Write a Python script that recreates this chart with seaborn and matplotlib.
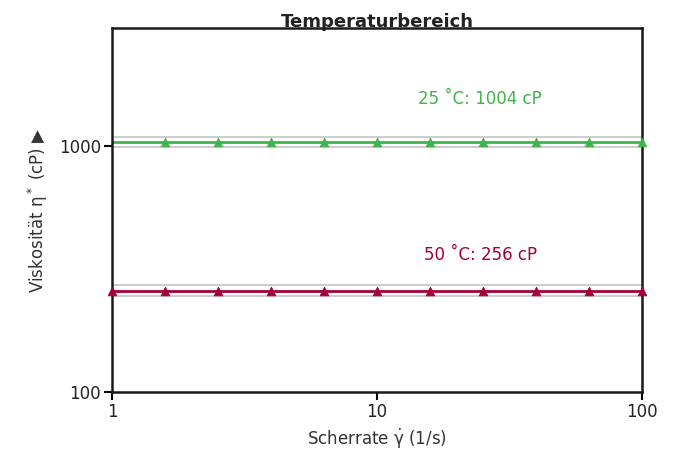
import numpy as np
import pandas as pd
import matplotlib
matplotlib.use("Agg")
import matplotlib.pyplot as plt
import seaborn as sns

# data
shear_rate = [1.0, 1.585, 2.512, 3.981, 6.310, 10.0, 15.85, 25.12, 39.81, 63.10, 100.0]
visc_25 = [1035] * 11
visc_50 = [258] * 11
label_25 = "25 ˚C: 1004 cP"
label_50 = "50 ˚C: 256 cP"
tol = 0.05

sns.set_theme(style="white")
plt.rcParams['font.family'] = ['DejaVu Sans']
plt.rcParams['mathtext.fontset'] = 'dejavusans'

green = "#3db54a"
red = "#a50034"

fig = plt.figure(figsize=(6.82, 4.55), dpi=100)
ax = fig.add_axes([0.1642, 0.1385, 0.7771, 0.8])

df = pd.DataFrame({"x": shear_rate * 2,
                   "y": visc_25 + visc_50,
                   "s": ["25"] * 11 + ["50"] * 11})

# tolerance bands (gray lines)
for vals in (visc_25, visc_50):
    for f in (1 + tol, 1 - tol):
        sns.lineplot(x=shear_rate, y=[v * f for v in vals], ax=ax,
                     color="#c8c8c8", lw=1.3, zorder=1)

sns.lineplot(data=df, x="x", y="y", hue="s", palette={"25": green, "50": red},
             ax=ax, lw=2, legend=False, zorder=2)
sns.scatterplot(x=shear_rate[1:], y=visc_25[1:], ax=ax, marker="^", color=green,
                s=40, edgecolor=green, zorder=3, clip_on=False)
sns.scatterplot(x=shear_rate, y=visc_50, ax=ax, marker="^", color=red,
                s=40, edgecolor=red, zorder=3, clip_on=False)

ax.set_xscale("log")
ax.set_yscale("log")
ax.set_xlim(1, 100)
ax.set_ylim(100, 3000)
ax.set_xticks([1, 10, 100])
ax.set_xticklabels(["1", "10", "100"])
ax.set_yticks([100, 1000])
ax.set_yticklabels(["100", "1000"])
ax.minorticks_off()
ax.tick_params(axis="both", which="major", direction="out", length=6, width=1.5,
               color="black", labelsize=12, labelcolor="#222222", pad=2,
               left=True, bottom=True)
for sp in ax.spines.values():
    sp.set_color("#1a1a1a")
    sp.set_linewidth(1.8)

ax.text(24.5, 1552, label_25, color=green, fontsize=12, ha="center", va="center")
ax.text(24.5, 360, label_50, color=red, fontsize=12, ha="center", va="center")

ax.set_title("Temperaturbereich", fontsize=13, fontweight="bold", color="#222222", pad=1)
ax.set_xlabel("Scherrate $\\dot{\\mathrm{\\gamma}}$ (1/s)", fontsize=12, color="#333333", labelpad=4)
ax.set_ylabel("Viskosität η$^*$ (cP) ▶", fontsize=12, color="#333333", labelpad=6)

fig.savefig("out.png", dpi=100)
